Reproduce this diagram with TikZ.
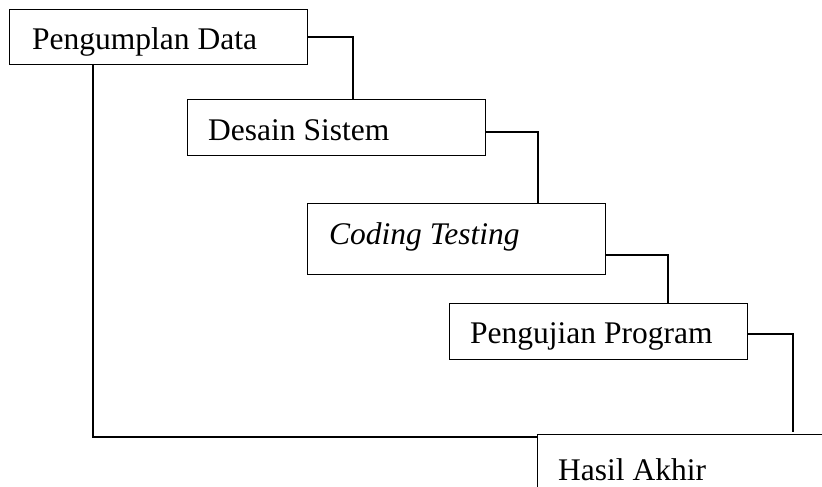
\documentclass[tikz,border=0pt]{standalone}
\usepackage{fontspec}
\setmainfont{Liberation Serif}
\begin{document}
\begin{tikzpicture}[x=1pt,y=-1pt,
  box/.style={draw, line width=1.4pt, rectangle, anchor=north west, inner sep=0pt, minimum width=298pt},
  lbl/.style={anchor=base west, inner sep=0pt, font=\fontsize{31.5}{36}\selectfont},
  link/.style={line width=1.5pt},
  thick link/.style={line width=2.2pt}]
\useasboundingbox (0,0) rectangle (822,487);
% boxes
\node[box, minimum height=55pt] (b1) at (9,9) {};
\node[box, minimum height=56pt] (b2) at (187,99) {};
\node[box, minimum height=71pt] (b3) at (307,203) {};
\node[box, minimum height=56pt] (b4) at (449,303) {};
\node[box, minimum width=330pt, minimum height=90pt] (b5) at (537,434) {};
% labels
\node[lbl] (t1) at (32,50) {Pengumplan Data};
\node[lbl] (t2) at (208,140) {Desain Sistem};
\node[lbl] (t3) at (329,244) {\itshape Coding Testing};
\node[lbl] (t4) at (470,343) {Pengujian Program};
\node[lbl] (t5) at (558,480) {Hasil Akhir};
% connector corners
\coordinate (c1) at (353,99);
\coordinate (c2) at (538,203);
\coordinate (c3) at (668,303);
\coordinate (c4) at (793,432);
\coordinate (s1) at (485,132);
\coordinate (s2) at (605,255);
\coordinate (s3) at (747,334);
\coordinate (d1) at (93,64);
\coordinate (d2) at (537,437);
% connectors
\draw[link] (b1.east) -| (c1);
\draw[link] (s1) -| (c2);
\draw[link] (s2) -| (c3);
\draw[link] (s3) -| (c4);
\draw[thick link] (d1) |- (d2);
\end{tikzpicture}
\end{document}
